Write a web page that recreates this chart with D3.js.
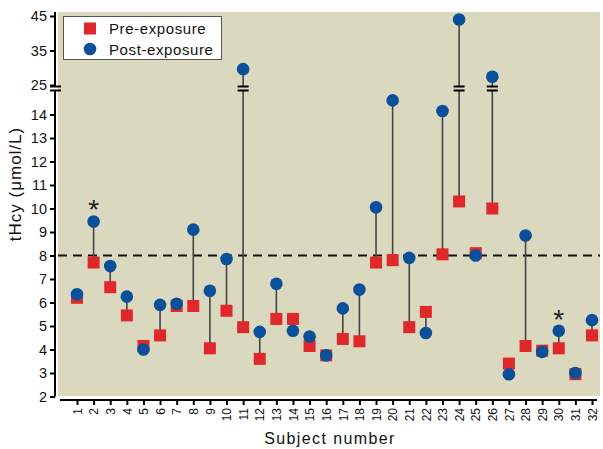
<!DOCTYPE html>
<html><head><meta charset="utf-8">
<script src="https://cdn.jsdelivr.net/npm/d3@7"></script>
<style>body{margin:0;background:#fff}svg{display:block;font-family:"Liberation Sans",Arial,sans-serif}</style>
</head><body>
<svg id="c" width="603" height="449"></svg>
<script>
const subjects = d3.range(1, 33);
const pre  = [6.2,7.7,6.65,5.45,4.15,4.6,5.85,5.85,4.05,5.65,4.95,3.6,5.3,5.3,4.15,3.75,4.45,4.35,7.7,7.8,4.95,5.6,8.05,10.3,8.1,10.0,3.4,4.15,3.95,4.05,2.95,4.6];
const post = [6.35,9.45,7.55,6.25,4.0,5.9,5.95,9.1,6.5,7.85,29.6,4.75,6.8,4.8,4.55,3.75,5.75,6.55,10.05,14.6,7.9,4.7,14.15,44.0,8.0,27.4,2.95,8.85,3.9,4.8,3.0,5.25];
const starred = [2, 30];
const lowerTicks = [2,3,4,5,6,7,8,9,10,11,12,13,14];
const upperTicks = [25,35,45];
const refValue = 8;

const svg = d3.select("#c");
const bg = "#dad9bf";
const L = 58, R = 600, T = 12, B = 396;

const x = d3.scaleLinear().domain([1, 32]).range([77, 592]);
const yLow = d3.scaleLinear().domain([2, 15]).range([396.5, 91]);
const yUp = d3.scaleLinear().domain([25, 45]).range([85, 16]);
const y = v => v <= 15 ? yLow(v) : yUp(v);

svg.append("rect").attr("x", L).attr("y", T).attr("width", R - L).attr("height", B - T).attr("fill", bg);

// Y axis (lower)
const axL = svg.append("g").attr("transform", "translate(55,0)")
  .call(d3.axisLeft(yLow).tickValues(lowerTicks).tickSize(5).tickPadding(3).tickFormat(d3.format("d")));
axL.select(".domain").attr("d", `M0,${yLow(2)}V90`).attr("stroke-width", 2);
const axU = svg.append("g").attr("transform", "translate(55,0)")
  .call(d3.axisLeft(yUp).tickValues(upperTicks).tickSize(5).tickPadding(3).tickFormat(d3.format("d")));
axU.select(".domain").attr("d", `M0,12V86.5`).attr("stroke-width", 2);
svg.selectAll("g .tick line").attr("stroke-width", 2);
svg.selectAll("g .tick text").attr("font-size", 14.5).attr("fill", "#111");
// y-axis break marks
[86.5, 90.5].forEach(yy => svg.append("line").attr("x1", 50).attr("x2", 61).attr("y1", yy).attr("y2", yy).attr("stroke", "#000").attr("stroke-width", 2));

// X axis
const axX = svg.append("g").attr("transform", "translate(0,400)")
  .call(d3.axisBottom(x).tickValues(subjects).tickSize(5).tickPadding(3).tickFormat(d3.format("d")));
axX.select(".domain").attr("d", "M60,0H597").attr("stroke-width", 2);
axX.selectAll(".tick line").attr("stroke-width", 2);
axX.selectAll(".tick text").attr("font-size", 12).attr("fill", "#111")
  .attr("transform", "rotate(-90)").attr("text-anchor", "end").attr("dy", "0.35em").attr("x", -8).attr("y", 0);

// Reference dashed line
svg.append("line").attr("x1", L).attr("x2", R).attr("y1", yLow(refValue)).attr("y2", yLow(refValue))
  .attr("stroke", "#111").attr("stroke-width", 2).attr("stroke-dasharray", "9,6");

// Stems
const data = subjects.map((s, i) => ({s, pre: pre[i], post: post[i]}));
svg.append("g").selectAll("line").data(data).join("line")
  .attr("x1", d => x(d.s)).attr("x2", d => x(d.s))
  .attr("y1", d => y(d.pre)).attr("y2", d => y(d.post))
  .attr("stroke", "#444").attr("stroke-width", 1.6);

// Stem breaks
const broken = data.filter(d => d.post > 15);
broken.forEach(d => {
  svg.append("rect").attr("x", x(d.s) - 6).attr("y", 87).attr("width", 12).attr("height", 3).attr("fill", bg);
  [86.5, 90.5].forEach(yy => svg.append("line").attr("x1", x(d.s) - 5.5).attr("x2", x(d.s) + 5.5)
    .attr("y1", yy).attr("y2", yy).attr("stroke", "#000").attr("stroke-width", 2));
});

const red = "#e0282c", blue = "#0a4f99";
// Pre squares
svg.append("g").selectAll("rect").data(data).join("rect")
  .attr("x", d => x(d.s) - 6).attr("y", d => y(d.pre) - 6).attr("width", 12).attr("height", 12).attr("fill", red);
// Post circles
svg.append("g").selectAll("circle").data(data).join("circle")
  .attr("cx", d => x(d.s)).attr("cy", d => y(d.post)).attr("r", 6.3).attr("fill", blue);

// Asterisks
starred.forEach(s => {
  svg.append("text").attr("x", x(s)).attr("y", y(post[s - 1]) - 2).attr("text-anchor", "middle")
    .attr("font-size", 28).attr("fill", "#222").text("*");
});

// Legend
const lg = svg.append("g");
lg.append("rect").attr("x", 63.5).attr("y", 16.5).attr("width", 158).attr("height", 43).attr("fill", "#fff").attr("stroke", "#555").attr("stroke-width", 1);
lg.append("rect").attr("x", 84).attr("y", 22.5).attr("width", 12).attr("height", 12).attr("fill", red);
lg.append("circle").attr("cx", 90).attr("cy", 49).attr("r", 6.3).attr("fill", blue);
lg.append("text").attr("x", 109).attr("y", 34).attr("font-size", 15).attr("fill", "#111").attr("letter-spacing", 0.6).text("Pre-exposure");
lg.append("text").attr("x", 109).attr("y", 55).attr("font-size", 15).attr("fill", "#111").attr("letter-spacing", 0.6).text("Post-exposure");

// Axis titles
svg.append("text").attr("x", 330).attr("y", 444).attr("text-anchor", "middle").attr("font-size", 16).attr("letter-spacing", 1.4).attr("fill", "#111").text("Subject number");
svg.append("text").attr("transform", "translate(21,184) rotate(-90)").attr("text-anchor", "middle").attr("font-size", 17).attr("letter-spacing", 1).attr("fill", "#111").text("tHcy (μmol/L)");
</script>
</body></html>
